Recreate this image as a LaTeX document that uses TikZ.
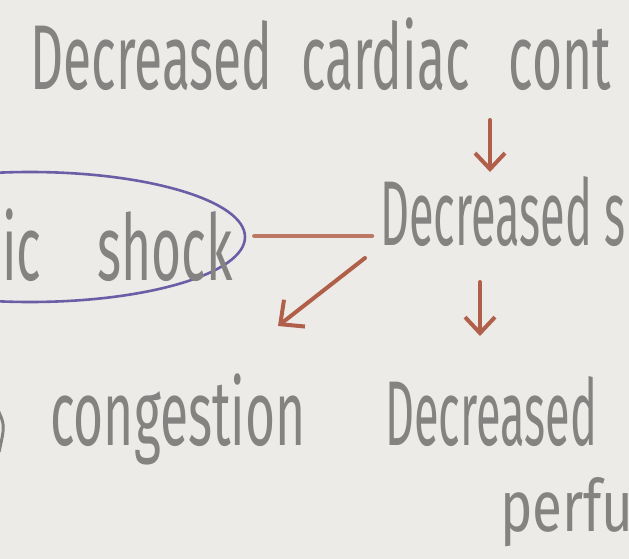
\documentclass[tikz,border=0pt]{standalone}
\usepackage{fontspec}
\usepackage{xcolor}
\usetikzlibrary{arrows.meta,positioning,calc,shapes.geometric}
\newfontfamily\handfont{Fira Sans}[FakeStretch=0.56]
\newfontfamily\handnarrow{Fira Sans}[FakeStretch=0.49]
\newfontfamily\handwide{Fira Sans}[FakeStretch=0.76]
\definecolor{paper} {HTML}{EDEBE7}
\definecolor{pencil}{HTML}{858382}
\definecolor{rust}  {HTML}{B0604A}
\definecolor{violet}{HTML}{6C5EA6}

\begin{document}
\begin{tikzpicture}[
  x=1pt, y=-1pt,
  txt/.style={inner sep=0pt, anchor=base west, text=pencil, align=left,
              font=\handfont\fontsize{92}{80}\selectfont},
  nar/.style={txt, font=\handnarrow\fontsize{92}{86}\selectfont},
  ring/.style={ellipse, draw=violet, line width=2.6pt, inner sep=0pt,
               minimum width=430pt, minimum height=130pt},
  >={Straight Barb[length=16pt,width=30pt]},
  arr/.style={->, rust, line width=4pt, line cap=round},
  link/.style={rust!85, line width=4.5pt, line cap=round}
]
\useasboundingbox (0,0) rectangle (629,559);
\fill[paper] (0,0) rectangle (629,559);
\clip (0,0) rectangle (629,559);

\node[txt] (cdc) at (30,90) {Decreased\hspace{29pt}cardiac\hspace{39pt}cont};
\node[ring] (ring) at (30,237) {};
\node[txt] (shock) at (2,280) {ic\hspace{56pt}shock};
\node[nar] (dsv) at (380,245) {Decreased s};
\node[txt] (cong) at (50,445) {congestion};
\node[nar] (dcp) at (385,531) {Decreased\\\hspace*{115pt}{\handwide\fontsize{72}{72}\selectfont perfu}};

\draw[pencil, line width=3pt] (-3,408) .. controls (5,425) .. (-1,452);

\draw[arr] ([shift={(460,30)}]cdc.base west) -- ([shift={(110,-73)}]dsv.base west);
\draw[link] ([shift={(8,-1)}]ring.east) -- ([shift={(-8,-9)}]dsv.base west);
\draw[arr, -{Straight Barb[length=18pt,width=34pt]}]
  ([shift={(-15,13)}]dsv.base west) -- ([shift={(228,-119)}]cong.base west);
\draw[arr] ([shift={(100,37)}]dsv.base west) -- ([shift={(95,-195)}]dcp.base west);
\end{tikzpicture}
\end{document}
